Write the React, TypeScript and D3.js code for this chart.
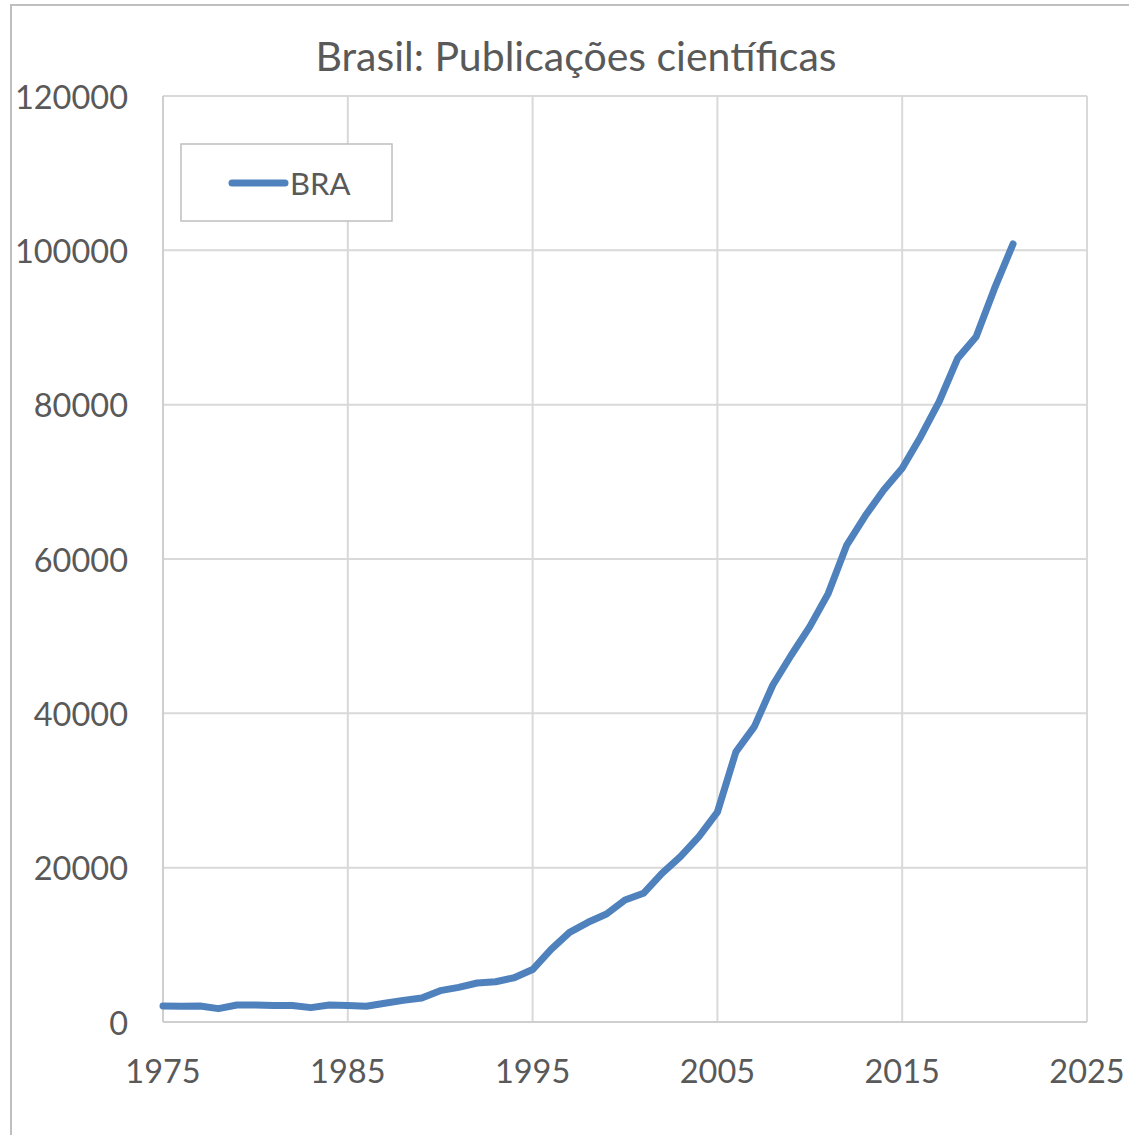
import React from "react";
import * as d3 from "d3";

// Annual count of Brazilian scientific publications
const years: number[] = [
  1975, 1976, 1977, 1978, 1979, 1980, 1981, 1982, 1983, 1984,
  1985, 1986, 1987, 1988, 1989, 1990, 1991, 1992, 1993, 1994,
  1995, 1996, 1997, 1998, 1999, 2000, 2001, 2002, 2003, 2004,
  2005, 2006, 2007, 2008, 2009, 2010, 2011, 2012, 2013, 2014,
  2015, 2016, 2017, 2018, 2019, 2020, 2021,
];
const braPublications: number[] = [
  2070, 2030, 2070, 1730, 2200, 2200, 2150, 2150, 1860, 2200,
  2150, 2050, 2420, 2800, 3110, 4060, 4490, 5050, 5220, 5740,
  6800, 9420, 11620, 12920, 14000, 15810, 16680, 19270, 21420, 24020,
  27200, 35000, 38270, 43670, 47560, 51230, 55550, 61810, 65600, 68940,
  71750, 75850, 80380, 86000, 88810, 95090, 100830,
];
const xTicks: number[] = [1975, 1985, 1995, 2005, 2015, 2025];
const yTicks: number[] = [0, 20000, 40000, 60000, 80000, 100000, 120000];
const seriesName = "BRA";
const title = "Brasil: Publicações científicas";

const W = 1129;
const H = 1135;
const plot = { left: 163, right: 1087, top: 96, bottom: 1022 };
const FONT = "Lato, 'Open Sans', sans-serif";
const TEXT = "#595959";
const GRID = "#d9d9d9";
const BLUE = "#4f81bd";

export default function App() {
  const x = d3.scaleLinear().domain([1975, 2025]).range([plot.left, plot.right]);
  const y = d3.scaleLinear().domain([0, 120000]).range([plot.bottom, plot.top]);
  const line = d3
    .line<number>()
    .x((_, i) => x(years[i]))
    .y((d) => y(d));

  return (
    <svg
      width={W}
      height={H}
      style={{ position: "absolute", left: 0, top: 0, background: "#fff" }}
      fontFamily={FONT}
    >
      <rect x={0} y={0} width={W} height={H} fill="#fff" />
      {/* chart frame */}
      <rect x={11} y={5} width={W + 20} height={H + 20} fill="none" stroke="#bfbfbf" strokeWidth={2} />

      <text x={576} y={55} textAnchor="middle" dominantBaseline="central" fontSize={41} fill={TEXT}>
        {title}
      </text>

      {/* gridlines */}
      {yTicks.map((t) => (
        <line key={"gy" + t} x1={plot.left} x2={plot.right} y1={y(t)} y2={y(t)} stroke={GRID} strokeWidth={2} />
      ))}
      {xTicks.map((t) => (
        <line key={"gx" + t} x1={x(t)} x2={x(t)} y1={plot.top} y2={plot.bottom} stroke={GRID} strokeWidth={2} />
      ))}
      {/* axes */}
      <line x1={plot.left} x2={plot.left} y1={plot.top} y2={plot.bottom} stroke="#cfcfcf" strokeWidth={2} />
      <line x1={plot.left} x2={plot.right} y1={plot.bottom} y2={plot.bottom} stroke="#cfcfcf" strokeWidth={2} />

      {/* tick labels */}
      {yTicks.map((t) => (
        <text key={"ly" + t} x={128} y={y(t)} textAnchor="end" dominantBaseline="central" fontSize={32.5} fill={TEXT}>
          {t}
        </text>
      ))}
      {xTicks.map((t) => (
        <text key={"lx" + t} x={x(t)} y={1070} textAnchor="middle" dominantBaseline="central" fontSize={32.5} fill={TEXT}>
          {t}
        </text>
      ))}

      {/* series */}
      <path
        d={line(braPublications) || ""}
        fill="none"
        stroke={BLUE}
        strokeWidth={7}
        strokeLinejoin="round"
        strokeLinecap="round"
      />

      {/* legend */}
      <rect x={181} y={144} width={211} height={77} fill="#fff" stroke="#bfbfbf" strokeWidth={1.5} />
      <line x1={232} x2={285} y1={183} y2={183} stroke={BLUE} strokeWidth={7} strokeLinecap="round" />
      <text x={290} y={183} dominantBaseline="central" fontSize={31} fill={TEXT}>
        {seriesName}
      </text>
    </svg>
  );
}
